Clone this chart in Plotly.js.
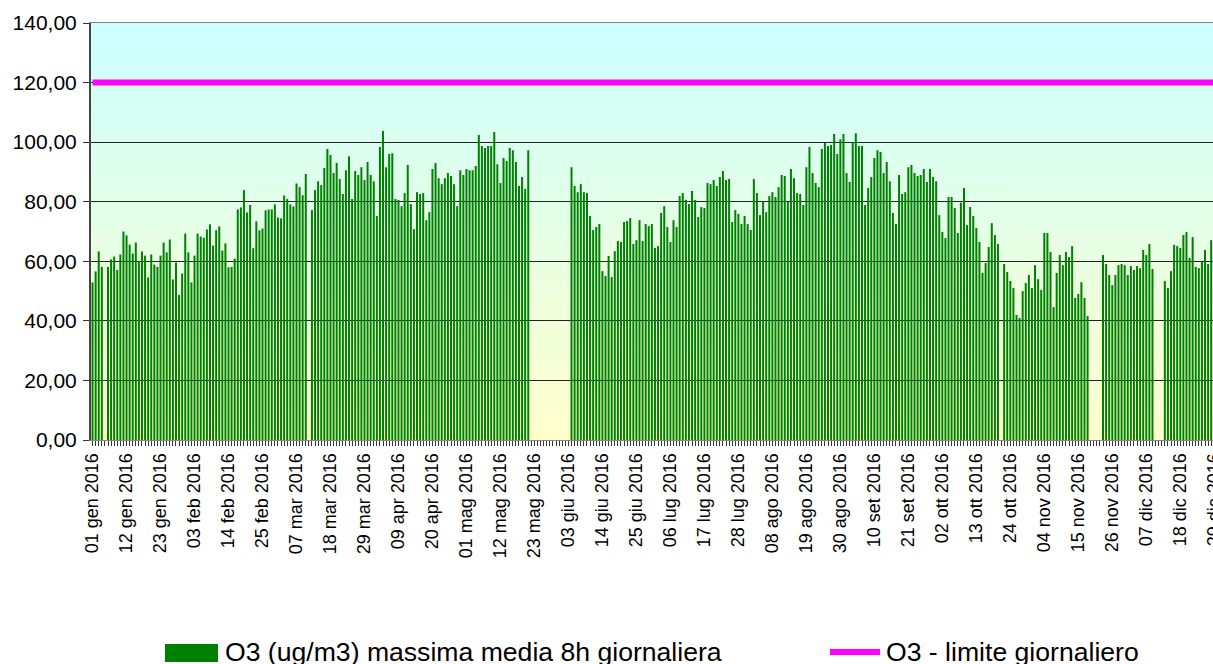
<!DOCTYPE html>
<html>
<head>
<meta charset="utf-8">
<script src="https://cdn.plot.ly/plotly-3.0.1.min.js"></script>
<style>
  html, body { margin: 0; padding: 0; background: #fff; overflow: hidden; }
  #grafico { width: 1226px; height: 664px; }
</style>
</head>
<body>
<div id="grafico"></div>
<script>
const mesi = ['gen', 'feb', 'mar', 'apr', 'mag', 'giu', 'lug', 'ago', 'set', 'ott', 'nov', 'dic'];
const giorniMese = [31, 29, 31, 30, 31, 30, 31, 31, 30, 31, 30, 31];
const anno = 2016;

// O3 massima media 8h giornaliera, ug/m3 (null = dato mancante)
const o3Gen = [52.9, 56.6, 63.3, 58.1, null, 58.1, 60.6, 61.6, 57.1, 62.3, 70.0, 68.7, 65.6, 62.6, 66.3, 60.0, 63.3, 61.9, 54.6, 62.3, 58.9, 58.1, 61.9, 66.3, 63.0, 67.3, 53.9, 59.6, 48.7, 55.9, 69.3];
const o3Feb = [63.0, 52.9, 61.9, 69.3, 68.3, 67.9, 70.7, 72.4, 65.3, 70.4, 71.7, 63.6, 66.0, 58.0, 58.1, 60.9, 77.4, 78.1, 83.9, 76.4, 78.9, 64.4, 73.4, 70.4, 71.0, 77.1, 77.4, 77.4, 79.1];
const o3Mar = [74.7, 74.4, 82.1, 80.9, 79.1, 78.4, 86.1, 84.9, 82.2, 89.3, null, 77.2, 83.9, 86.9, 85.6, 91.3, 97.7, 95.7, 89.6, 93.0, 87.6, 82.6, 90.6, 95.3, 80.9, 90.3, 89.0, 91.6, 87.3, 93.3, 89.0];
const o3Apr = [86.9, 75.2, 98.4, 103.7, 91.6, 96.0, 96.3, 80.9, 80.6, 78.5, 82.9, 92.3, 79.2, 70.8, 83.2, 82.6, 82.9, 73.8, 76.5, 91.0, 93.0, 87.9, 85.9, 87.9, 89.6, 88.6, 85.9, 78.5, 90.6, 89.0];
const o3Mag = [91.0, 90.6, 90.6, 92.0, 102.4, 98.7, 98.0, 98.7, 98.7, 103.4, 92.6, 86.3, 94.7, 93.7, 98.0, 97.3, 93.3, 85.3, 88.3, 84.3, 97.3, null, null, null, null, null, null, null, null, null, null];
const o3Giu = [null, null, null, 91.6, 85.3, 83.2, 85.9, 83.2, 82.9, 75.2, 70.5, 71.5, 72.5, 56.7, 55.1, 61.8, 54.7, 63.4, 66.8, 66.5, 73.2, 73.5, 74.5, 65.8, 67.1, 73.8, 66.8, 72.5, 71.8, 72.5];
const o3Lug = [64.5, 65.1, 76.2, 78.5, 71.5, 66.5, 73.8, 71.5, 81.9, 82.9, 80.6, 79.2, 83.6, 80.6, 74.9, 78.2, 77.9, 86.3, 85.9, 87.3, 85.3, 88.3, 90.3, 87.3, 87.6, 73.2, 77.2, 75.9, 72.5, 75.2, 72.5];
const o3Ago = [70.5, 87.6, 82.9, 75.5, 80.2, 76.5, 81.9, 83.2, 81.6, 84.9, 89.0, 88.6, 79.9, 91.0, 87.9, 82.9, 82.6, 78.9, 91.6, 98.4, 89.6, 86.3, 84.9, 97.7, 99.7, 98.7, 99.0, 102.7, 96.0, 101.0, 102.7];
const o3Set = [89.6, 86.6, 100.0, 103.0, 98.7, 98.7, 78.9, 84.6, 88.3, 94.7, 97.3, 96.7, 89.6, 93.3, 86.9, 76.2, 72.5, 89.0, 82.6, 83.2, 91.6, 92.3, 89.6, 88.6, 89.0, 91.0, 86.6, 91.0, 88.3, 86.9];
const o3Ott = [75.5, 69.8, 67.8, 81.6, 81.6, 77.9, 69.5, 79.7, 84.6, 72.2, 78.2, 75.2, 71.2, 66.5, 56.1, 59.4, 64.8, 72.8, 68.8, 65.8, null, 59.1, 56.4, 53.4, 51.0, 42.0, 41.0, 50.0, 52.7, 55.4, 51.0];
const o3Nov = [58.7, 54.0, 50.4, 69.5, 69.5, 63.1, 44.6, 56.1, 62.1, 58.7, 63.1, 61.4, 65.1, 47.7, 49.0, 53.0, 47.7, 41.6, null, null, null, null, 62.1, 59.1, 55.4, 52.0, 55.4, 58.7, 59.1, 58.7];
const o3Dic = [55.4, 58.4, 57.1, 58.4, 57.7, 63.8, 62.1, 65.8, 57.4, null, null, null, 53.4, 51.0, 56.7, 65.5, 65.1, 64.5, 68.8, 69.8, 61.1, 68.1, 58.1, 57.7, 59.8, 63.8, 59.1, 67.1, 70.5, 66.0, 62.0];

const limiteGiornaliero = 120;
const nomiSerie = ['O3 (ug/m3) massima media 8h giornaliera', 'O3 - limite giornaliero'];
const passoEtichette = 11;

const valori = [].concat(o3Gen, o3Feb, o3Mar, o3Apr, o3Mag, o3Giu, o3Lug, o3Ago, o3Set, o3Ott, o3Nov, o3Dic);

let giorni = [];
mesi.forEach((m, i) => {
  for (let d = 1; d <= giorniMese[i]; d++) {
    const dd = d < 10 ? '0' + d : '' + d;
    giorni = [...giorni, `${dd} ${m} ${anno}`];
  }
});

const etichette = giorni.map((g, i) => (i % passoEtichette === 0 ? g : ''));

// plot area in pixels
const W = 1226, H = 664;
const mL = 91, mT = 23, mB = 224, mR = 4;
const pw = W - mL - mR, ph = H - mT - mB;
const px2x = (px) => (px - mL) / pw;
const py2y = (py) => (H - mB - py) / ph;

const sfondo = "<svg xmlns='http://www.w3.org/2000/svg' width='10' height='100' preserveAspectRatio='none'>" +
  "<defs><linearGradient id='g' x1='0' y1='0' x2='0' y2='1'>" +
  "<stop offset='0' stop-color='#ccffff'/><stop offset='1' stop-color='#ffffcc'/>" +
  "</linearGradient></defs><rect width='10' height='100' fill='url(#g)'/></svg>";

const font = 'Liberation Sans, Arial, sans-serif';

const traceBar = {
  x: giorni,
  y: valori,
  type: 'bar',
  name: nomiSerie[0],
  marker: { color: '#008000', line: { width: 0 } },
  hovertemplate: '%{x}<br>%{y:.2f}<extra></extra>',
};

const traceLimite = {
  x: giorni,
  y: giorni.map(() => limiteGiornaliero),
  type: 'scatter',
  mode: 'lines',
  name: nomiSerie[1],
  line: { color: '#ff00ff', width: 6 },
  hoverinfo: 'skip',
};

const layout = {
  width: W,
  height: H,
  margin: { l: mL, r: mR, t: mT, b: mB },
  paper_bgcolor: '#ffffff',
  plot_bgcolor: 'rgba(0,0,0,0)',
  separators: ',.',
  font: { family: font, color: '#000' },
  showlegend: false,
  bargap: 0.35,
  xaxis: {
    type: 'category',
    tickmode: 'array',
    tickvals: giorni,
    ticktext: etichette,
    tickangle: -90,
    ticks: 'outside',
    ticklen: 5,
    tickcolor: '#333',
    tickwidth: 1,
    tickfont: { size: 18, family: font },
    showline: true,
    linecolor: '#888',
    linewidth: 1,
    mirror: true,
    showgrid: false,
    range: [-0.5, giorni.length - 0.5],
    fixedrange: true,
  },
  yaxis: {
    range: [0, 140],
    dtick: 20,
    tickformat: '.2f',
    ticks: 'outside',
    ticklen: 6,
    tickcolor: '#333',
    ticklabelstandoff: 2,
    tickfont: { size: 21, family: font },
    showline: true,
    linecolor: '#444',
    linewidth: 2,
    showgrid: true,
    gridcolor: '#222',
    gridwidth: 1,
    zeroline: false,
    fixedrange: true,
  },
  images: [{
    source: 'data:image/svg+xml;charset=utf-8,' + encodeURIComponent(sfondo),
    xref: 'paper', yref: 'paper',
    x: 0, y: 1, sizex: 1, sizey: 1,
    xanchor: 'left', yanchor: 'top',
    sizing: 'stretch',
    layer: 'below',
  }],
  shapes: [
    {
      type: 'rect', xref: 'paper', yref: 'paper',
      x0: px2x(165), x1: px2x(218), y0: py2y(662), y1: py2y(644),
      fillcolor: '#008000', line: { width: 0 },
    },
    {
      type: 'line', xref: 'paper', yref: 'paper',
      x0: px2x(830), x1: px2x(880), y0: py2y(652), y1: py2y(652),
      line: { color: '#ff00ff', width: 6 },
    },
  ],
  annotations: [
    {
      xref: 'paper', yref: 'paper', x: px2x(223), y: py2y(652),
      xanchor: 'left', yanchor: 'middle', showarrow: false,
      text: nomiSerie[0], font: { size: 26.6, family: font },
    },
    {
      xref: 'paper', yref: 'paper', x: px2x(884), y: py2y(652),
      xanchor: 'left', yanchor: 'middle', showarrow: false,
      text: nomiSerie[1], font: { size: 26.6, family: font },
    },
  ],
};

Plotly.newPlot('grafico', [traceBar, traceLimite], layout, { displayModeBar: false, staticPlot: true });
</script>
</body>
</html>
